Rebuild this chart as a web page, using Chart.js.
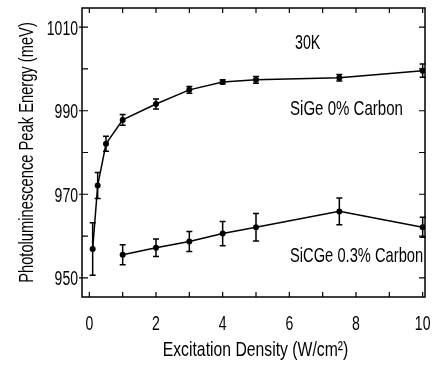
<!DOCTYPE html>
<html>
<head>
<meta charset="utf-8">
<script src="https://cdn.jsdelivr.net/npm/chart.js@4.4.0/dist/chart.umd.min.js"></script>
<style>
  html, body { margin: 0; padding: 0; background: #fff; }
  #wrap { width: 433px; height: 366px; position: relative; }
</style>
</head>
<body>
<div id="wrap"><canvas id="myChart"></canvas></div>
<script>
// PL peak energy vs excitation density, 30K

// SiGe 0% Carbon
var xPure = [0.1, 0.25, 0.5, 1, 2, 3, 4, 5, 7.5, 10];
var yPure = [956.9, 972.1, 982.1, 987.8, 991.6, 995.0, 996.9, 997.4, 997.9, 999.6];
var errPure = [6.3, 3.1, 1.8, 1.3, 1.2, 0.8, 0.5, 0.8, 0.8, 1.6];

// SiCGe 0.3% Carbon
var xCarbon = [1, 2, 3, 4, 5, 7.5, 10];
var yCarbon = [955.5, 957.2, 958.7, 960.6, 962.1, 965.9, 962.1];
var errCarbon = [2.4, 2.1, 2.4, 2.9, 3.3, 3.2, 2.4];

var xLabelTicks = [0, 2, 4, 6, 8, 10];
var yLabelTicks = [950, 970, 990, 1010];

var xTitle = 'Excitation Density (W/cm²)';
var yTitle = 'Photoluminescence Peak Energy (meV)';

// no condensed face installed, so squeeze Liberation Sans sideways
var FONT = "'Liberation Sans', Arial, sans-serif";

function toPoints(xs, ys, errs) {
  return xs.map(function (x, i) { return { x: x, y: ys[i], err: errs[i] }; });
}

function narrowText(ctx, str, x, y, size, sx, align, rot) {
  ctx.save();
  ctx.translate(x, y);
  if (rot) ctx.rotate(rot);
  ctx.scale(sx, 1);
  ctx.font = size + 'px ' + FONT;
  ctx.textAlign = align;
  ctx.textBaseline = 'alphabetic';
  ctx.fillStyle = '#000';
  ctx.fillText(str, 0, 0);
  ctx.restore();
}

// error bars with caps
var errorBars = {
  id: 'errorBars',
  afterDatasetsDraw: function (chart) {
    var ctx = chart.ctx;
    var ys = chart.scales.y;
    ctx.save();
    ctx.strokeStyle = '#000';
    ctx.lineWidth = 1.5;
    chart.data.datasets.forEach(function (ds, di) {
      var meta = chart.getDatasetMeta(di);
      meta.data.forEach(function (pt, i) {
        var d = ds.data[i];
        var top = ys.getPixelForValue(d.y + d.err);
        var bot = ys.getPixelForValue(d.y - d.err);
        ctx.beginPath();
        ctx.moveTo(pt.x, top); ctx.lineTo(pt.x, bot);
        ctx.moveTo(pt.x - 3, top); ctx.lineTo(pt.x + 3, top);
        ctx.moveTo(pt.x - 3, bot); ctx.lineTo(pt.x + 3, bot);
        ctx.stroke();
      });
    });
    ctx.restore();
  }
};

// box frame, inward ticks, labels and notes
var frame = {
  id: 'frame',
  afterDraw: function (chart) {
    var ctx = chart.ctx;
    var a = chart.chartArea;
    var xs = chart.scales.x, ys = chart.scales.y;
    ctx.save();
    ctx.strokeStyle = '#000';
    ctx.lineWidth = 1.5;
    ctx.strokeRect(a.left, a.top, a.right - a.left, a.bottom - a.top);
    ctx.lineWidth = 1.2;
    ctx.beginPath();
    xs.ticks.forEach(function (t) {
      var px = xs.getPixelForValue(t.value);
      ctx.moveTo(px, a.bottom); ctx.lineTo(px, a.bottom - 5);
      ctx.moveTo(px, a.top); ctx.lineTo(px, a.top + 5);
    });
    ys.ticks.forEach(function (t) {
      var py = ys.getPixelForValue(t.value);
      var out = yLabelTicks.indexOf(t.value) >= 0 ? 3 : 0;
      ctx.moveTo(a.left - out, py); ctx.lineTo(a.left + 6, py);
      ctx.moveTo(a.right, py); ctx.lineTo(a.right - 6, py);
    });
    ctx.stroke();
    ctx.restore();

    // tick labels
    xLabelTicks.forEach(function (v) {
      narrowText(ctx, String(v), xs.getPixelForValue(v), a.bottom + 32.5, 19.5, 0.72, 'center');
    });
    yLabelTicks.forEach(function (v) {
      narrowText(ctx, String(v), a.left - 4, ys.getPixelForValue(v) + 7.5, 19.5, 0.72, 'right');
    });

    // axis titles
    narrowText(ctx, xTitle, (a.left + a.right) / 2 + 2, a.bottom + 59, 21, 0.75, 'center');
    narrowText(ctx, yTitle, a.left - 49, (a.top + a.bottom) / 2, 21, 0.70, 'center', -Math.PI / 2);

    // notes inside the plot
    narrowText(ctx, '30K', xs.getPixelForValue(6.55), ys.getPixelForValue(1004.9), 21, 0.68, 'center');
    narrowText(ctx, 'SiGe 0% Carbon', xs.getPixelForValue(6.02), ys.getPixelForValue(989.0), 21, 0.717, 'left');
    narrowText(ctx, 'SiCGe 0.3% Carbon', xs.getPixelForValue(6.02), ys.getPixelForValue(953.85), 21, 0.70, 'left');
  }
};

document.addEventListener("DOMContentLoaded", function () {
  var ctx = document.getElementById("myChart").getContext("2d");

  var lineStyle = {
    showLine: true,
    borderColor: '#000',
    borderWidth: 1.5,
    backgroundColor: '#000',
    pointRadius: 3,
    pointBackgroundColor: '#000',
    pointBorderWidth: 0,
    tension: 0
  };

  var myChart = new Chart(ctx, {
    type: 'scatter',
    data: {
      datasets: [
        Object.assign({ label: 'SiGe 0% Carbon', data: toPoints(xPure, yPure, errPure) }, lineStyle),
        Object.assign({ label: 'SiCGe 0.3% Carbon', data: toPoints(xCarbon, yCarbon, errCarbon) }, lineStyle)
      ]
    },
    options: {
      responsive: true,
      maintainAspectRatio: false,
      animation: false,
      layout: { padding: { top: 8, right: 8, left: 0, bottom: 0 } },
      plugins: { legend: { display: false }, tooltip: { enabled: false } },
      scales: {
        x: {
          type: 'linear',
          min: -0.22,
          max: 10.07,
          afterFit: function (s) { s.height = 69; },
          grid: { display: false, drawTicks: false },
          border: { display: false },
          ticks: { display: false, stepSize: 1, includeBounds: false, autoSkip: false }
        },
        y: {
          type: 'linear',
          min: 945.4,
          max: 1014.6,
          afterFit: function (s) { s.width = 82; },
          grid: { display: false, drawTicks: false },
          border: { display: false },
          ticks: { display: false, stepSize: 10, includeBounds: false, autoSkip: false }
        }
      }
    },
    plugins: [errorBars, frame]
  });
});
</script>
</body>
</html>
